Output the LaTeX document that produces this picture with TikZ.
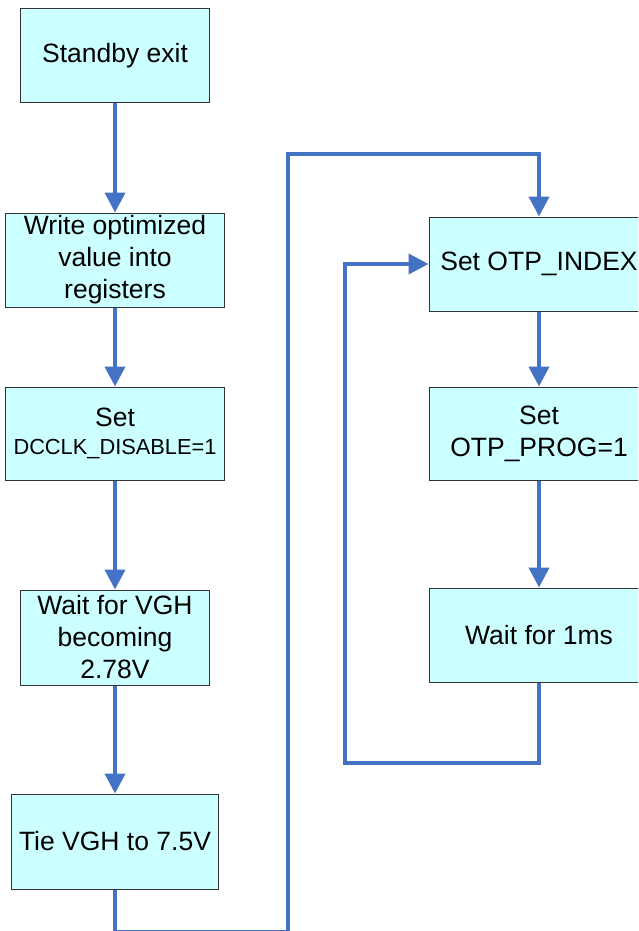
\documentclass[tikz,border=0pt]{standalone}
\usepackage{fontspec}
\setmainfont{Liberation Sans}
\usetikzlibrary{arrows.meta}
\definecolor{boxfill}{HTML}{CCFFFF}
\definecolor{flowblue}{HTML}{4472C4}
\tikzset{
  stepbox/.style={draw=black!80, line width=1pt, fill=boxfill, inner sep=0pt,
    align=center, font=\fontsize{26.5}{32}\selectfont},
  flow/.style={draw=flowblue, line width=4pt, -{Triangle[length=20pt,width=20pt]}},
}
\begin{document}
\begin{tikzpicture}[x=1pt,y=-1pt]
\useasboundingbox (0,0) rectangle (638,931);
\clip (0,0) rectangle (638,931);
\fill[white] (0,0) rectangle (638,931);
% left column
\node[stepbox, minimum width=189pt, minimum height=94pt] (b1) at (115,56) {Standby exit};
\node[stepbox, minimum width=219pt, minimum height=94pt] (b2) at (115,260) {Write optimized\\value into\\registers};
\node[stepbox, minimum width=219pt, minimum height=93pt] (b3) at (115,433.5) {Set\\[-4pt]{\fontsize{21.8}{26}\selectfont DCCLK\_DISABLE=1}};
\node[stepbox, minimum width=189pt, minimum height=95pt] (b4) at (115,637.5) {Wait for VGH\\becoming\\2.78V};
\node[stepbox, minimum width=207pt, minimum height=95pt] (b5) at (115,841.5) {Tie VGH to 7.5V};
% right column
\node[stepbox, minimum width=220pt, minimum height=94pt] (b6) at (539,264) {Set OTP\_INDEX};
\node[stepbox, minimum width=220pt, minimum height=93pt] (b7) at (539,433.5) {Set\\OTP\_PROG=1};
\node[stepbox, minimum width=220pt, minimum height=94pt] (b8) at (539,635) {Wait for 1ms};
% coordinates
\coordinate (c1) at (115,932);
\coordinate (c2) at (288,932);
\coordinate (c3) at (288,154);
\coordinate (c4) at (345,763);
% connectors
\draw[flow] (b1.south) -- (b2.north);
\draw[flow] (b2.south) -- (b3.north);
\draw[flow] (b3.south) -- (b4.north);
\draw[flow] (b4.south) -- (b5.north);
\draw[flow] (b5.south) -- (c1) -- (c2) -- (c3) -| (b6.north);
\draw[flow] (b6.south) -- (b7.north);
\draw[flow] (b7.south) -- (b8.north);
\draw[flow] (b8.south) |- (c4) |- (b6.west);
\end{tikzpicture}
\end{document}
